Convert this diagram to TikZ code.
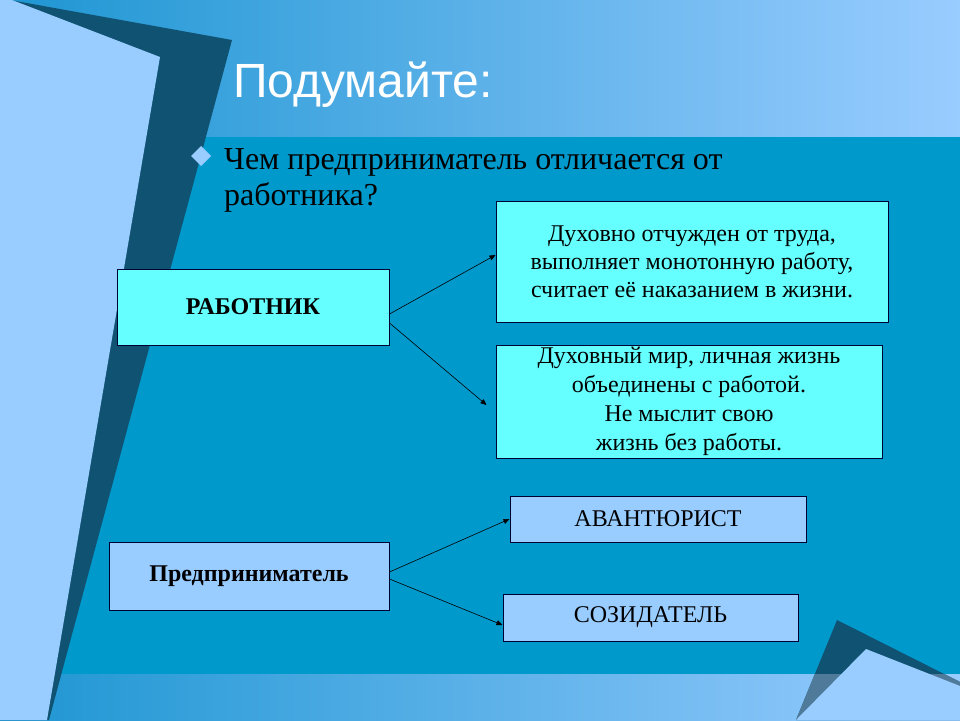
\documentclass[tikz,border=0pt]{standalone}
\usepackage{fontspec}
\setmainfont{Liberation Serif}
\newfontfamily\titlefont{Liberation Sans}
\usetikzlibrary{arrows.meta}
\definecolor{slidemid}{HTML}{0099CC}
\definecolor{slidelight}{HTML}{99CCFF}
\definecolor{slideedge}{HTML}{1E96D2}
\definecolor{slidedark}{HTML}{105272}
\definecolor{slidegrey}{HTML}{4F7A99}
\definecolor{boxcyan}{HTML}{66FFFF}
\definecolor{boxline}{HTML}{000033}

\begin{document}
\begin{tikzpicture}[x=1pt,y=-1pt]
  \tikzset{box/.style = {draw=boxline, line width=1pt, inner sep=0pt, align=center, font=\fontsize{24}{28}\selectfont}}
  \tikzset{cyanbox/.style = {box, fill=boxcyan}}
  \tikzset{bluebox/.style = {box, fill=slidelight}}
  \tikzset{link/.style = {-{Triangle[length=6pt,width=5pt]}, line width=0.6pt}}
  \useasboundingbox (0,0) rectangle (960,720);

  % background
  \fill[slidemid] (0,0) rectangle (960,720);
  \foreach \ya/\yb in {0/136,674/720}
  {
    \shade[left color=slideedge, right color=slidelight] (0,\ya) rectangle (960,\yb);
  }
  \fill[slidedark] (10,0) -- (232,40) -- (49,720) -- (0,720) -- (0,0) -- cycle;
  \fill[slidelight] (0,0) -- (12,0) -- (160,57) -- (47,720) -- (0,720) -- cycle;
  \fill[slidedark] (837,620) -- (960,682) -- (960,720) -- (796,720) -- cycle;
  \begin{scope}
    \clip (837,620) -- (960,682) -- (960,720) -- (796,720) -- cycle;
    \fill[slidegrey] (0,674) rectangle (960,720);
  \end{scope}
  \fill[slidelight] (866,649) -- (960,686) -- (960,720) -- (796,720) -- cycle;

  % title and question
  \node[anchor=base west, inner sep=0pt, text=white, font=\titlefont\fontsize{48}{52}\selectfont] (title) at (233,97) {Подумайте:};
  \fill[slidelight] (201,146) -- (211,156) -- (201,166) -- (191,156) -- cycle;
  \node[anchor=base west, inner sep=0pt, align=left, font=\fontsize{32}{36}\selectfont] (quest) at (224,205) {Чем предприниматель отличается от\\работника?};

  % boxes
  \node[cyanbox, minimum width=272pt, minimum height=76pt] (rab) at (253,307) {\bfseries РАБОТНИК};
  \node[bluebox, minimum width=280pt, minimum height=68pt] (ent) at (249,576) {\bfseries Предприниматель};
  \node[cyanbox, minimum width=392pt, minimum height=121pt] (dux) at (692,261.5) {Духовно отчужден от труда,\\выполняет монотонную работу,\\считает её наказанием в жизни.};
  \node[cyanbox, minimum width=386pt, minimum height=113pt, font=\fontsize{24}{29}\selectfont] (mir) at (689,401.5) {Духовный мир, личная жизнь\\объединены с работой.\\Не мыслит свою\\жизнь без работы.};
  \node[bluebox, minimum width=296pt, minimum height=46pt] (av) at (658,519) {АВАНТЮРИСТ};
  \node[bluebox, minimum width=295pt, minimum height=47pt] (soz) at (650.5,617.5) {СОЗИДАТЕЛЬ};

  % arrows
  \draw[link] ([yshift=-7pt]rab.east) to ([yshift=6.5pt]dux.west);
  \draw[link] ([yshift=-16pt]rab.east) to ([shift={(-9pt,-3.5pt)}]mir.west);
  \draw[link] ([yshift=4pt]ent.east) to (av.west);
  \draw[link] ([yshift=-3pt]ent.east) to ([yshift=-7.5pt]soz.west);
\end{tikzpicture}
\end{document}
